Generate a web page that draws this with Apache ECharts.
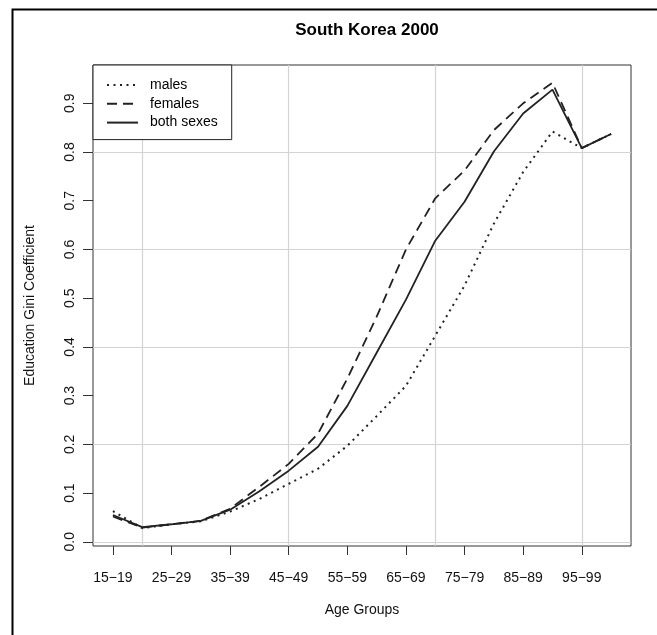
<!DOCTYPE html>
<html><head><meta charset="utf-8">
<script src="https://cdn.jsdelivr.net/npm/echarts@6/dist/echarts.min.js"></script>
<style>html,body{margin:0;padding:0;background:#fff}#c{width:657px;height:635px}</style>
</head><body><div id="c"></div>
<script>
const ageGroups = ["15\u221219","20\u221224","25\u221229","30\u221234","35\u221239","40\u221244","45\u221249","50\u221254","55\u221259","60\u221264","65\u221269","70\u221274","75\u221279","80\u221284","85\u221289","90\u221294","95\u221299","100\u2212104"];
const males     = [0.063,0.028,0.036,0.042,0.062,0.088,0.119,0.150,0.197,0.258,0.320,0.423,0.526,0.653,0.759,0.842,0.808,0.837];
const females   = [0.052,0.029,0.036,0.043,0.068,0.113,0.160,0.222,0.335,0.462,0.600,0.705,0.762,0.845,0.900,0.942,0.808,0.837];
const bothSexes = [0.055,0.030,0.036,0.043,0.066,0.104,0.146,0.195,0.279,0.388,0.497,0.618,0.698,0.801,0.879,0.928,0.808,0.837];
const xTickIdx = [0,2,4,6,8,10,12,14,16];
const xGridIdx = [1,6,11,16];
const yTicks = [0,0.1,0.2,0.3,0.4,0.5,0.6,0.7,0.8,0.9];
const yGrid = [0,0.2,0.4,0.6,0.8];

const FONT = 'Liberation Sans, Arial, sans-serif';
const pts = a => a.map((v,i)=>[i,v]);
const XMIN=-0.68, XMAX=17.68, YMIN=-0.0086, YMAX=0.9786;

const chart = echarts.init(document.getElementById('c'), null, {renderer:'canvas'});
chart.setOption({
  animation:false,
  backgroundColor:'#fff',
  title:{text:'South Korea 2000', left:362, textAlign:'center', top:17,
    textStyle:{fontFamily:FONT, fontSize:17, fontWeight:'bold', color:'#000'}},
  grid:{left:93, top:65, width:538, height:481, show:true, borderColor:'#333', borderWidth:1, backgroundColor:'transparent'},
  legend:{
    left:93, top:65, orient:'vertical', itemWidth:31, itemHeight:14, itemGap:4.8,
    padding:[13,14,10,13], borderColor:'#222', borderWidth:1, backgroundColor:'#fff',
    itemStyle:{opacity:0},
    textStyle:{fontFamily:FONT, fontSize:14, color:'#000', padding:[0,0,0,7]},
    data:['males','females','both sexes']
  },
  xAxis:[{
    type:'value', min:XMIN, max:XMAX, position:'bottom',
    axisLine:{show:false, onZero:false},
    axisTick:{show:true, inside:false, customValues:xTickIdx, length:9, lineStyle:{color:'#333'}},
    axisLabel:{customValues:xTickIdx, formatter:v=>ageGroups[Math.round(v)], margin:25,
      fontFamily:FONT, fontSize:14, color:'#111'},
    splitLine:{show:false},
    name:'Age Groups', nameLocation:'middle', nameGap:57,
    nameTextStyle:{fontFamily:FONT, fontSize:14, color:'#111'}
  },{
    type:'value', min:XMIN, max:XMAX, position:'bottom', show:true,
    axisLine:{show:false, onZero:false}, axisLabel:{show:false},
    axisTick:{show:false, customValues:xGridIdx},
    splitLine:{show:true, lineStyle:{color:'#d3d3d3', width:1.2}}
  }],
  yAxis:[{
    type:'value', min:YMIN, max:YMAX, position:'left',
    axisLine:{show:false, onZero:false},
    axisTick:{show:true, inside:false, customValues:yTicks, length:10, lineStyle:{color:'#333'}},
    axisLabel:{customValues:yTicks, formatter:v=>v.toFixed(1), rotate:90, margin:16,
      fontFamily:FONT, fontSize:14, color:'#111'},
    splitLine:{show:false},
    name:'Education Gini Coefficient', nameLocation:'middle', nameGap:56,
    nameTextStyle:{fontFamily:FONT, fontSize:14, color:'#111'}
  },{
    type:'value', min:YMIN, max:YMAX, position:'left', show:true,
    axisLine:{show:false, onZero:false}, axisLabel:{show:false},
    axisTick:{show:false, customValues:yGrid},
    splitLine:{show:true, lineStyle:{color:'#d3d3d3', width:1.2}}
  }],
  series:[
    {name:'males', type:'line', data:pts(males), symbol:'none', z:3,
      lineStyle:{color:'#222', width:2, type:[2,4.5]}, itemStyle:{color:'#222'}},
    {name:'females', type:'line', data:pts(females), symbol:'none', z:3,
      lineStyle:{color:'#222', width:1.8, type:[10,6]}, itemStyle:{color:'#222'}},
    {name:'both sexes', type:'line', data:pts(bothSexes), symbol:'none', z:3,
      lineStyle:{color:'#222', width:1.8}, itemStyle:{color:'#222'}}
  ],
  graphic:[{type:'rect', left:10, top:7, shape:{width:700, height:700},
    style:{fill:'none', stroke:'#000', lineWidth:2}, z:100, silent:true}]
});
</script></body></html>
